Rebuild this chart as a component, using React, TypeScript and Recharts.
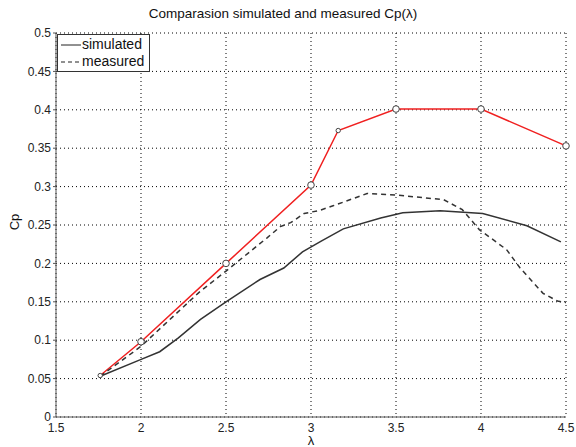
import { CartesianGrid, Line, LineChart, XAxis, YAxis } from "recharts";

// simulated Cp(lambda), solid line
const simLambda = [1.76, 1.99, 2.11, 2.22, 2.35, 2.5, 2.7, 2.84, 2.95, 3.06, 3.19, 3.41, 3.54, 3.76, 4.01, 4.27, 4.47];
const simCp = [0.053, 0.074, 0.085, 0.103, 0.127, 0.15, 0.179, 0.194, 0.215, 0.229, 0.245, 0.259, 0.266, 0.2685, 0.265, 0.249, 0.228];

// measured Cp(lambda), dashed line
const measLambda = [1.76, 2.0, 2.34, 2.5, 2.74, 2.82, 2.88, 2.96, 3.05, 3.13, 3.33, 3.5, 3.78, 3.89, 3.99, 4.15, 4.23, 4.365, 4.45, 4.5];
const measCp = [0.053, 0.092, 0.162, 0.19, 0.233, 0.248, 0.253, 0.265, 0.269, 0.275, 0.291, 0.289, 0.283, 0.27, 0.244, 0.218, 0.194, 0.161, 0.151, 0.149];

// red curve with circle markers
const redLambda = [1.76, 2, 2.5, 3, 3.16, 3.5, 4, 4.5];
const redCp = [0.054, 0.098, 0.2, 0.302, 0.373, 0.401, 0.401, 0.353];

const xTicks = [1.5, 2, 2.5, 3, 3.5, 4, 4.5];
const yTicks = [0, 0.05, 0.1, 0.15, 0.2, 0.25, 0.3, 0.35, 0.4, 0.45, 0.5];

const legendNames = ["simulated", "measured"];

const toPoints = (xs: number[], ys: number[]) => xs.map((x, i) => ({ x, y: ys[i] }));

const simData = toPoints(simLambda, simCp);
const measData = toPoints(measLambda, measCp);
const redData = toPoints(redLambda, redCp);

const FONT = '"Liberation Sans", Arial, sans-serif';

function RedDot(props: any) {
  const { cx, cy, payload } = props;
  // the intermediate points are drawn with smaller markers
  const small = payload.x === 3.16 || payload.x === 1.76;
  return (
    <circle
      cx={cx}
      cy={cy}
      r={small ? 2.2 : 3.3}
      fill="#fff"
      stroke="#444"
      strokeWidth={1}
    />
  );
}

function LegendBox() {
  return (
    <div
      style={{
        position: "absolute",
        left: 57,
        top: 34,
        border: "1px solid #333",
        background: "#fff",
        padding: "1px 5px 1px 3px",
        fontFamily: FONT,
        fontSize: 14,
        lineHeight: "17px",
        color: "#111",
      }}
    >
      {legendNames.map((name, i) => (
        <div key={name} style={{ display: "flex", alignItems: "center" }}>
          <svg width={20} height={10}>
            <line
              x1={0}
              y1={5}
              x2={20}
              y2={5}
              stroke="#222"
              strokeWidth={1}
              strokeDasharray={i === 1 ? "4 3" : undefined}
            />
          </svg>
          <span style={{ marginLeft: 1 }}>{name}</span>
        </div>
      ))}
    </div>
  );
}

export default function App() {
  return (
    <div style={{ position: "absolute", left: 0, top: 0, width: 576, height: 447, background: "#fff" }}>
      <div
        style={{
          position: "absolute",
          left: 0,
          width: 566,
          top: 6,
          textAlign: "center",
          fontFamily: FONT,
          fontSize: 13.5,
          color: "#111",
        }}
      >
        Comparasion simulated and measured Cp(λ)
      </div>
      <LineChart
        width={576}
        height={447}
        margin={{ top: 33, right: 10, bottom: 0, left: 0 }}
        style={{ fontFamily: FONT }}
      >
        <CartesianGrid stroke="#000" strokeDasharray="1 3" strokeWidth={1} />
        <XAxis
          type="number"
          dataKey="x"
          domain={[1.5, 4.5]}
          ticks={xTicks}
          allowDuplicatedCategory={false}
          height={30}
          tickLine={false}
          tickSize={4}
          stroke="#555"
          tick={{ fontSize: 12, fill: "#222" }}
          label={{ value: "λ", position: "insideBottom", offset: 2, fontSize: 13, fill: "#111" }}
        />
        <YAxis
          type="number"
          domain={[0, 0.5]}
          ticks={yTicks}
          width={56}
          tickSize={3}
          stroke="#555"
          tick={{ fontSize: 12, fill: "#222" }}
          tickFormatter={(v: number) => String(+v.toFixed(2))}
          label={{
            content: (p: any) => {
              const vb = p.viewBox || { y: 33, height: 384 };
              const cy = vb.y + vb.height / 2;
              return (
                <text
                  x={19}
                  y={cy - 3}
                  transform={`rotate(-90 19 ${cy - 3})`}
                  textAnchor="middle"
                  fontSize={13}
                  fill="#111"
                >
                  Cp
                </text>
              );
            },
          }}
        />
        <Line
          data={redData}
          dataKey="y"
          stroke="#f02020"
          strokeWidth={1.5}
          dot={<RedDot />}
          activeDot={false}
          legendType="none"
          isAnimationActive={false}
        />
        <Line
          data={simData}
          dataKey="y"
          name="simulated"
          stroke="#333"
          strokeWidth={1.5}
          dot={false}
          activeDot={false}
          isAnimationActive={false}
        />
        <Line
          data={measData}
          dataKey="y"
          name="measured"
          stroke="#333"
          strokeWidth={1.5}
          strokeDasharray="5 4"
          dot={false}
          activeDot={false}
          isAnimationActive={false}
        />
      </LineChart>
      <LegendBox />
    </div>
  );
}
